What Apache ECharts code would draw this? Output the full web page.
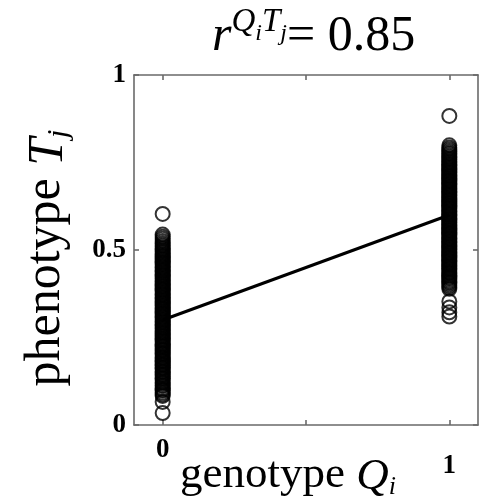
<!DOCTYPE html>
<html>
<head>
<meta charset="utf-8">
<script src="https://cdn.jsdelivr.net/npm/echarts@6/dist/echarts.min.js"></script>
<style>html,body{margin:0;padding:0;background:#fff}#c{width:480px;height:501px}</style>
</head>
<body>
<div id="c"></div>
<script>
// genotype Q_i = 0 : phenotype T_j values
var pheno0 = [0.034, 0.066, 0.083, 0.087, 0.092, 0.098, 0.101, 0.105, 0.111, 0.114, 0.119, 0.122, 0.127, 0.132, 0.134, 0.139, 0.143, 0.146, 0.151, 0.153, 0.158, 0.162, 0.164, 0.169, 0.172, 0.175, 0.180, 0.183, 0.186, 0.191, 0.193, 0.197, 0.202, 0.204, 0.208, 0.213, 0.215, 0.219, 0.224, 0.226, 0.230, 0.233, 0.237, 0.241, 0.244, 0.248, 0.252, 0.255, 0.259, 0.263, 0.266, 0.270, 0.274, 0.277, 0.281, 0.285, 0.288, 0.292, 0.296, 0.299, 0.303, 0.307, 0.310, 0.314, 0.318, 0.321, 0.325, 0.329, 0.332, 0.336, 0.340, 0.343, 0.347, 0.351, 0.354, 0.358, 0.362, 0.365, 0.369, 0.373, 0.376, 0.380, 0.384, 0.387, 0.391, 0.395, 0.398, 0.402, 0.406, 0.409, 0.413, 0.417, 0.420, 0.424, 0.428, 0.431, 0.435, 0.439, 0.442, 0.446, 0.450, 0.453, 0.457, 0.461, 0.464, 0.468, 0.472, 0.475, 0.479, 0.483, 0.486, 0.490, 0.494, 0.498, 0.502, 0.506, 0.511, 0.515, 0.520, 0.526, 0.532, 0.538, 0.544, 0.603];
// genotype Q_i = 1 : phenotype T_j values
var pheno1 = [0.310, 0.322, 0.336, 0.353, 0.389, 0.394, 0.399, 0.404, 0.408, 0.412, 0.417, 0.421, 0.424, 0.428, 0.433, 0.436, 0.440, 0.445, 0.448, 0.452, 0.456, 0.459, 0.463, 0.467, 0.470, 0.474, 0.478, 0.481, 0.485, 0.489, 0.492, 0.496, 0.500, 0.503, 0.507, 0.511, 0.514, 0.518, 0.522, 0.525, 0.529, 0.533, 0.536, 0.540, 0.544, 0.547, 0.551, 0.555, 0.558, 0.562, 0.566, 0.569, 0.573, 0.577, 0.580, 0.584, 0.588, 0.591, 0.595, 0.599, 0.602, 0.606, 0.610, 0.613, 0.617, 0.621, 0.624, 0.628, 0.632, 0.635, 0.639, 0.643, 0.646, 0.650, 0.654, 0.657, 0.661, 0.665, 0.668, 0.672, 0.676, 0.679, 0.683, 0.687, 0.690, 0.694, 0.698, 0.701, 0.705, 0.709, 0.712, 0.716, 0.720, 0.723, 0.727, 0.731, 0.734, 0.738, 0.742, 0.745, 0.749, 0.753, 0.757, 0.761, 0.765, 0.769, 0.774, 0.778, 0.783, 0.788, 0.793, 0.799, 0.883];
// regression line end points
var fitX = [0, 1];
var fitY = [0.30, 0.60];
var xTicks = [0, 0.5, 1];
var xTickLabels = [0, 1];
var corr = '0.85';

var serif = '"Liberation Serif", "Times New Roman", serif';
var scatterData = pheno0.map(function (v) { return [0, v]; })
  .concat(pheno1.map(function (v) { return [1, v]; }));
var lineData = fitX.map(function (x, i) { return [x, fitY[i]]; });

var axisLineStyle = { color: '#6a6a6a', width: 1.6 };
var tickFont = { fontFamily: serif, fontWeight: 'bold', fontSize: 27, color: '#000' };
function xAx(pos, showLabel) {
  return {
    type: 'value', position: pos, min: -0.1, max: 1.1,
    axisLine: { show: true, onZero: false, lineStyle: axisLineStyle },
    axisTick: { show: true, inside: true, length: 5, customValues: xTicks, lineStyle: axisLineStyle },
    axisLabel: {
      show: showLabel, customValues: xTickLabels, margin: 12,
      formatter: function (v) { return v === 1 ? '{lo|' + v + '}' : '{n|' + v + '}'; },
      rich: {
        n: tickFont,
        lo: Object.assign({ padding: [16, 0, 0, 0] }, tickFont)
      }
    },
    splitLine: { show: false },
    name: showLabel ? 'genotype {it|Q}{sub|i}' : '',
    nameLocation: 'middle', nameGap: 25, nameMoveOverlap: false,
    nameTextStyle: {
      fontFamily: serif, fontSize: 45, color: '#000', verticalAlign: 'top', padding: [0, 36, 0, 0],
      rich: {
        it: { fontFamily: serif, fontSize: 45, fontStyle: 'italic', color: '#000', verticalAlign: 'bottom', lineHeight: 50 },
        sub: { fontFamily: serif, fontSize: 26, fontStyle: 'italic', color: '#000', verticalAlign: 'bottom', lineHeight: 40 }
      }
    }
  };
}
function yAx(pos, showLabel) {
  return {
    type: 'value', position: pos, min: 0, max: 1, interval: 0.5,
    axisLine: { show: true, onZero: false, lineStyle: axisLineStyle },
    axisTick: { show: true, inside: true, length: 5, lineStyle: axisLineStyle },
    axisLabel: Object.assign({ show: showLabel, margin: 8 }, tickFont),
    splitLine: { show: false },
    name: showLabel ? 'phenotype {it|T}{sub|j}' : '',
    nameLocation: 'middle', nameGap: 60, nameRotate: 90, nameMoveOverlap: false,
    nameTextStyle: {
      fontFamily: serif, fontSize: 50, color: '#000', padding: [0, 16, 0, 0],
      rich: {
        it: { fontFamily: serif, fontSize: 50, fontStyle: 'italic', color: '#000', verticalAlign: 'bottom', lineHeight: 56 },
        sub: { fontFamily: serif, fontSize: 30, fontStyle: 'italic', color: '#000', verticalAlign: 'bottom', lineHeight: 48 }
      }
    }
  };
}

var chart = echarts.init(document.getElementById('c'), null, { renderer: 'canvas' });
chart.setOption({
  backgroundColor: '#fff',
  animation: false,
  title: {
    text: '{r|r}{sup|Q}{sub|i}{sup|T}{sub|j}{eq|= ' + corr + '}',
    left: 207, top: 1,
    textStyle: {
      fontWeight: 'normal',
      rich: {
        r: { fontFamily: serif, fontSize: 50, fontStyle: 'italic', fontWeight: 'normal', color: '#000', verticalAlign: 'bottom', lineHeight: 56 },
        sup: { fontFamily: serif, fontSize: 33, fontStyle: 'italic', fontWeight: 'normal', color: '#000', verticalAlign: 'top', lineHeight: 34 },
        sub: { fontFamily: serif, fontSize: 24, fontStyle: 'italic', fontWeight: 'normal', color: '#000', verticalAlign: 'top', lineHeight: 24, padding: [16, 0, 0, 0] },
        eq: { fontFamily: serif, fontSize: 50, fontWeight: 'normal', color: '#000', verticalAlign: 'bottom', lineHeight: 56 }
      }
    }
  },
  grid: { left: 134, right: 2, top: 75, bottom: 76, containLabel: false, outerBoundsMode: 'none' },
  xAxis: [xAx('bottom', true), xAx('top', false)],
  yAxis: [yAx('left', true), yAx('right', false)],
  series: [
    {
      type: 'line', data: lineData, xAxisIndex: 0, yAxisIndex: 0,
      symbol: 'none', lineStyle: { color: '#000', width: 3 }, z: 2
    },
    {
      type: 'scatter', data: scatterData, xAxisIndex: 0, yAxisIndex: 0,
      symbol: 'circle', symbolSize: 14,
      itemStyle: { color: 'rgba(0,0,0,0)', borderColor: '#000', borderWidth: 2 },
      z: 3
    }
  ]
});
</script>
</body>
</html>
